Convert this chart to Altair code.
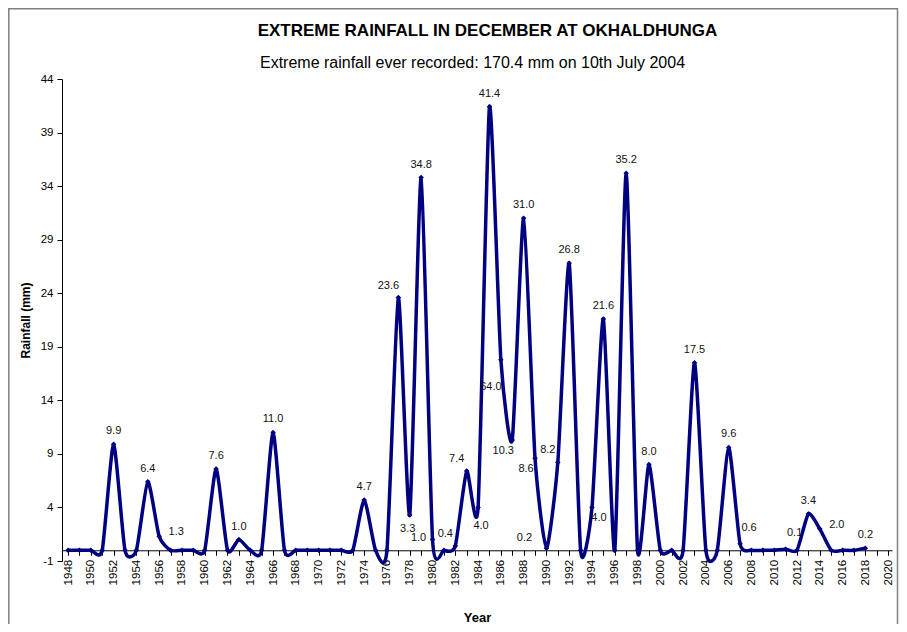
import altair as alt
import pandas as pd

# ---- data ----
years = list(range(1948, 2019))
rainfall = [
    0, 0, 0, 0, 9.9, 0, 0, 6.4, 1.3, 0,          # 1948-1957
    0, 0, 0, 7.6, 0, 1.0, 0, 0, 11.0, 0,          # 1958-1967
    0, 0, 0, 0, 0, 0, 4.7, 0, 0, 23.6,            # 1968-1977
    3.3, 34.8, 1.0, 0, 0.4, 7.4, 4.0, 41.4, 17.8, 10.3,  # 1978-1987
    31.0, 8.6, 0.2, 8.2, 26.8, 0, 4.0, 21.6, 0, 35.2,    # 1988-1997
    0, 8.0, 0, 0, 0, 17.5, 0, 0, 9.6, 0.6,        # 1998-2007
    0, 0, 0, 0.1, 0, 3.4, 2.0, 0, 0, 0,           # 2008-2017
    0.2,                                          # 2018
]

label_years = [1952, 1955, 1956, 1961, 1963, 1966, 1974, 1977, 1978, 1979,
               1980, 1982, 1983, 1984, 1985, 1986, 1987, 1988, 1989, 1990,
               1991, 1992, 1994, 1995, 1997, 1999, 2003, 2006, 2007, 2011,
               2013, 2014, 2018]
label_texts = ["9.9", "6.4", "1.3", "7.6", "1.0", "11.0", "4.7", "23.6", "3.3", "34.8",
               "1.0", "0.4", "7.4", "4.0", "41.4", "64.0", "10.3", "31.0", "8.6", "0.2",
               "8.2", "26.8", "4.0", "21.6", "35.2", "8.0", "17.5", "9.6", "0.6", "0.1",
               "3.4", "2.0", "0.2"]
# label placement codes (style only)
label_place = ["a", "a", "r", "a", "a", "a", "a", "al", "b", "a",
               "l", "al", "al", "b2", "a", "bl2", "bl", "a", "bl", "al2",
               "al", "a", "br", "a", "a", "a", "a", "a", "ar", "ar",
               "a", "r", "a"]

y_ticks = [-1, 4, 9, 14, 19, 24, 29, 34, 39, 44]
x_label_years = list(range(1948, 2021, 2))
x_minor_years = list(range(1949, 2021, 2))

title_text = "EXTREME RAINFALL IN DECEMBER AT OKHALDHUNGA"
subtitle_text = "Extreme rainfall ever recorded: 170.4 mm on 10th July 2004"

# ---- style ----
NAVY = "#000080"
FONT = "Liberation Sans"
OFFSETS = {
    "a": (0, -13), "al": (-10, -12), "al2": (-22, -10), "ar": (9, -16),
    "r": (17, -4), "l": (-14, -2), "b": (-2, 14), "b2": (3, 19), "bl": (-9, 11),
    "bl2": (-10, 27), "br": (7, 11),
}

df = pd.DataFrame({"year": years, "rain": rainfall})
lab = pd.DataFrame({
    "year": label_years,
    "rain": [rainfall[years.index(y)] for y in label_years],
    "label": label_texts,
    "place": label_place,
})

x_scale = alt.Scale(domain=[1947.47, 2020.34], nice=False, zero=False)
y_scale = alt.Scale(domain=[-1, 44], nice=False, zero=False)

x_main = alt.X(
    "year:Q", scale=x_scale,
    axis=alt.Axis(
        orient="bottom", values=x_label_years, format="d", labelAngle=-90,
        labelOverlap=False, labelFlush=False, labelFontSize=11.5, labelColor="#000000",
        labelPadding=4, tickSize=5, tickColor="#000000", domainColor="#000000",
        grid=False, offset=-10.71, title="Year", titleFontSize=13,
        titleFontWeight="bold", titlePadding=27, titleColor="#000000",
    ),
)
x_minor = alt.X(
    "year:Q", scale=x_scale,
    axis=alt.Axis(
        orient="bottom", values=x_minor_years, labels=False, domain=False,
        tickSize=5, tickColor="#000000", grid=False, offset=-10.71, title=None,
    ),
)
y_enc = alt.Y(
    "rain:Q", scale=y_scale,
    axis=alt.Axis(
        values=y_ticks, labelExpr="'' + datum.value", labelFontSize=11.5,
        labelColor="#000000", labelPadding=4,
        tickSize=5, tickColor="#000000", domainColor="#000000", grid=False,
        title="Rainfall (mm)", titleFontSize=12, titleFontWeight="bold",
        titlePadding=8, titleColor="#000000",
    ),
)
x_plain = alt.X("year:Q", scale=x_scale, axis=None)
y_plain = alt.Y("rain:Q", scale=y_scale)

line = alt.Chart(df).mark_line(
    interpolate="cardinal", tension=0.4, color=NAVY, strokeWidth=3.5
).encode(x=x_main, y=y_enc)

minor_ticks = alt.Chart(df).mark_point(opacity=0).encode(x=x_minor, y=y_plain)

points = alt.Chart(df).mark_point(
    shape="diamond", filled=True, size=30, color=NAVY, opacity=1
).encode(x=x_plain, y=y_plain)

text_layers = []
for code, (dx, dy) in OFFSETS.items():
    text_layers.append(
        alt.Chart(lab).transform_filter(alt.datum.place == code).mark_text(
            dx=dx, dy=dy, fontSize=11, font=FONT, color="#111111",
            align="center", baseline="middle",
        ).encode(x=x_plain, y=y_plain, text="label:N")
    )

one = pd.DataFrame({"t": [0]})
title = alt.Chart(one).mark_text(
    text=title_text, fontSize=17, fontWeight="bold", font=FONT, color="#000000",
    align="center", baseline="middle",
).encode(x=alt.value(425.5), y=alt.value(-48))
subtitle = alt.Chart(one).mark_text(
    text=subtitle_text, fontSize=16, font=FONT, color="#000000",
    align="center", baseline="middle",
).encode(x=alt.value(410.5), y=alt.value(-16))

frame = alt.Chart(one).mark_rect(
    fill="transparent", stroke="#808080", strokeWidth=1.5
).encode(x=alt.value(-53.2), x2=alt.value(835.5), y=alt.value(-70.2), y2=alt.value(570))

chart = alt.layer(
    frame, line, minor_ticks, points, *text_layers, title, subtitle
).resolve_axis(x="independent").properties(
    width=830, height=482,
    autosize=alt.AutoSizeParams(type="none"),
    padding={"left": 54, "top": 71, "right": 7, "bottom": 63},
    background="white",
).configure_view(stroke=None).configure_axis(
    labelFont=FONT, titleFont=FONT
).configure_text(font=FONT)

chart.save("out.html", embed_options={"renderer": "svg", "actions": False})
